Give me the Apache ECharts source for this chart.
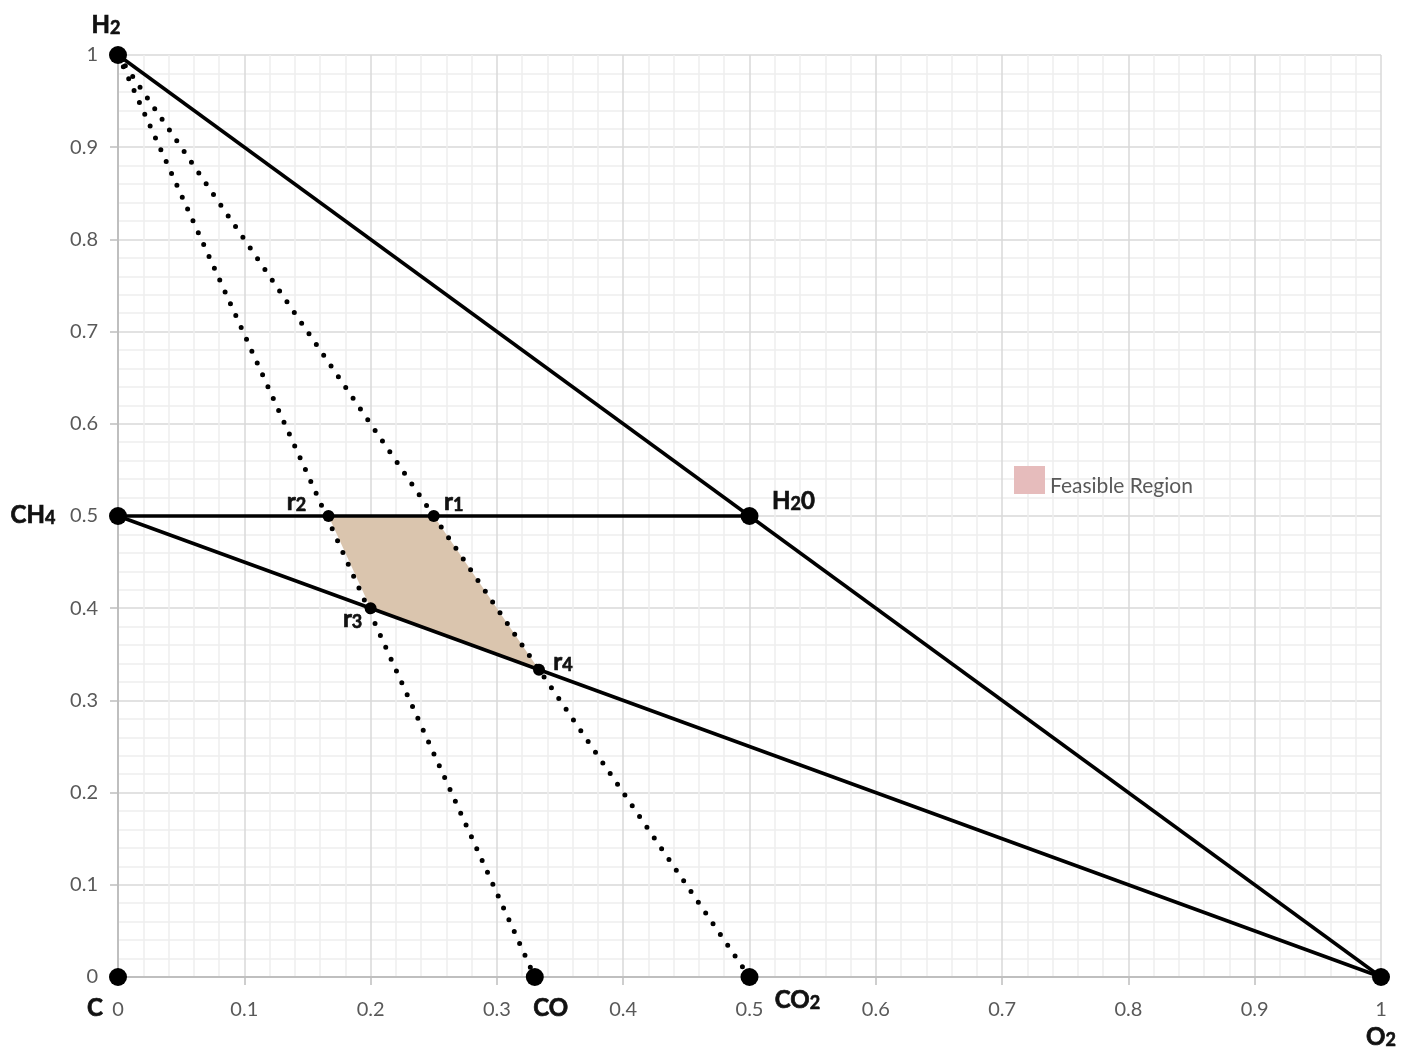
<!DOCTYPE html>
<html><head><meta charset="utf-8">
<script src="https://cdn.jsdelivr.net/npm/echarts@6/dist/echarts.min.js"></script>
<style>html,body{margin:0;padding:0;background:#fff}#chart{width:1407px;height:1049px}</style>
</head><body><div id="chart"></div>
<script>
// ---- data ----
const xTickLabels = ['0','0.1','0.2','0.3','0.4','0.5','0.6','0.7','0.8','0.9','1'];
const yTickLabels = ['0','0.1','0.2','0.3','0.4','0.5','0.6','0.7','0.8','0.9','1'];
const nodeNames = ['H2','CH4','C','CO','CO2','O2','H2O'];
const nodeX = [0, 0, 0, 0.33, 0.5, 1, 0.5];
const nodeY = [1, 0.5, 0, 0, 0, 0, 0.5];
const rNames = ['r1','r2','r3','r4'];
const rX = [0.25, 1/6, 0.2, 1/3];
const rY = [0.5, 0.5, 0.4, 1/3];
const solidEdges = [['H2','O2'],['CH4','H2O'],['CH4','O2']];
const dottedEdges = [['H2','CO'],['H2','CO2']];
const feasibleVertices = ['r2','r1','r4','r3'];
const regionName = 'Feasible Region';

// ---- text (rich) ----
const labelText = {
  H2:'{m|H}{s|2}', CH4:'{m|CH}{s|4}', C:'{m|C}', CO:'{m|CO}', CO2:'{m|CO}{s|2}',
  O2:'{m|O}{s|2}', H2O:'{m|H}{s|2}{m|0}',
  r1:'{m|r}{s|1}', r2:'{m|r}{s|2}', r3:'{m|r}{s|3}', r4:'{m|r}{s|4}'
};
// ---- styles ----
const labelOffsets = {
  H2:[-12,-30], CH4:[-85,-1], C:[-23,31], CO:[16,31], CO2:[48,23], O2:[0,60], H2O:[44,-15],
  r1:[20,-14], r2:[-32,-14], r3:[-18,11], r4:[24,-7]
};
const FONT = 'Lato, "Noto Sans", sans-serif';
const rich = {
  m:{fontFamily:FONT, fontWeight:'bold', fontSize:24, lineHeight:24, color:'#111', verticalAlign:'bottom',
     textBorderColor:'#111', textBorderWidth:0.7},
  s:{fontFamily:FONT, fontWeight:'bold', fontSize:18, lineHeight:16, color:'#111', verticalAlign:'bottom',
     textBorderColor:'#111', textBorderWidth:0.6}
};

function pt(name){
  let i = nodeNames.indexOf(name);
  if (i >= 0) return [nodeX[i], nodeY[i]];
  i = rNames.indexOf(name);
  return [rX[i], rY[i]];
}

const series = [];
series.push({
  name: regionName, type:'custom', coordinateSystem:'cartesian2d', z:1, silent:true,
  data: feasibleVertices.map(pt),
  renderItem: function(params, api){
    if (params.dataIndex !== 0) return null;
    const pts = feasibleVertices.map(n => api.coord(pt(n)));
    return {type:'polygon', shape:{points:pts}, style:{fill:'#dac5ae'}};
  }
});
dottedEdges.forEach(e => series.push({
  type:'line', data:[pt(e[0]), pt(e[1])], showSymbol:false, silent:true, clip:false, z:2,
  lineStyle:{color:'#000', width:5, type:[0,13], cap:'round'}
}));
solidEdges.forEach(e => series.push({
  type:'line', data:[pt(e[0]), pt(e[1])], showSymbol:false, silent:true, clip:false, z:3,
  lineStyle:{color:'#000', width:3.5}
}));
function scatter(names, size){
  return {
    type:'scatter', symbol:'circle', symbolSize:size, clip:false, silent:true, z:4,
    itemStyle:{color:'#000', opacity:1},
    data: names.map(n => ({name:n, value:pt(n), label:{offset:labelOffsets[n]}})),
    label:{show:true, position:'inside', align:'center', verticalAlign:'middle',
      formatter: p => labelText[p.name], rich: rich}
  };
}
series.push(scatter(nodeNames, 18));
series.push(scatter(rNames, 12));

function axis(labels, isY){
  return {
    type:'value', min:0, max:1, interval:0.1,
    axisLine:{show:true, onZero:false, lineStyle:{color:'#bfbfbf', width:2}},
    axisTick:{show:true, length:8, lineStyle:{color:'#bfbfbf', width:1.5}},
    axisLabel:{color:'#595959', fontSize:20, fontFamily:FONT, margin: isY ? 20 : 23,
      formatter: v => labels[Math.round(v*10)]},
    splitLine:{show:true, lineStyle:{color:'#d9d9d9', width:1.5}},
    minorTick:{show:false, splitNumber:5},
    minorSplitLine:{show:true, lineStyle:{color:'#eeeeee', width:1.5}}
  };
}

const chart = echarts.init(document.getElementById('chart'), null, {renderer:'canvas'});
chart.setOption({
  animation:false,
  backgroundColor:'#fff',
  grid:{left:118, right:26, top:55, bottom:72, containLabel:false},
  xAxis: axis(xTickLabels, false),
  yAxis: axis(yTickLabels, true),
  legend:{left:1009, top:461, itemWidth:31, itemHeight:28, icon:'rect',
    data:[{name:regionName, itemStyle:{color:'#e6bcbc'}}],
    formatter: n => '{t|' + n + '}',
    textStyle:{fontSize:21, color:'#595959', fontFamily:FONT,
      rich:{t:{fontSize:21, color:'#595959', fontFamily:FONT, padding:[12,0,0,0]}}}},
  series: series
});
</script></body></html>
